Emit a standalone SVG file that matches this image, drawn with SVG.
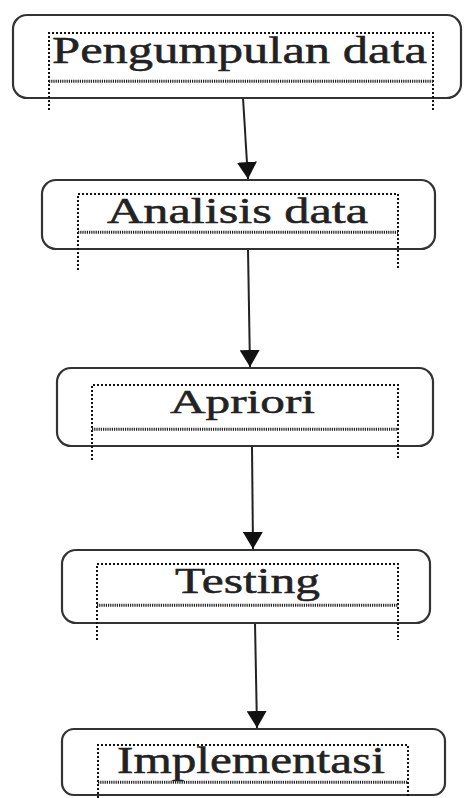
<svg xmlns="http://www.w3.org/2000/svg" width="464" height="798" viewBox="0 0 464 798">
<style>
.box{fill:#fff;stroke:#333;stroke-width:2.2}
.dot{fill:none;stroke:#111;stroke-width:2;stroke-dasharray:2 2}
.wave{fill:none;stroke:#222;stroke-width:1.5;stroke-dasharray:1.2 1}
.lbl{font-family:"Liberation Serif","DejaVu Serif",serif;fill:#222;stroke:#222;stroke-width:0.5}
.conn{stroke:#222;stroke-width:2;fill:none}
</style>
<defs>
<marker id="ah" viewBox="0 0 17 20" refX="17" refY="10" markerUnits="userSpaceOnUse" markerWidth="17" markerHeight="20" orient="auto">
<path d="M0,0 L17,10 L0,20 z" fill="#111"/>
</marker>
</defs>
<rect width="464" height="798" fill="#fff"/>
<g id="connectors">
<line class="conn" x1="243" y1="98" x2="248" y2="179" marker-end="url(#ah)"/>
<line class="conn" x1="248" y1="249" x2="250" y2="367" marker-end="url(#ah)"/>
<line class="conn" x1="252" y1="446" x2="253" y2="549" marker-end="url(#ah)"/>
<line class="conn" x1="255" y1="623" x2="257" y2="728" marker-end="url(#ah)"/>
</g>
<g id="n1">
<rect class="box" x="13" y="15" width="448" height="83" rx="14"/>
<path class="dot" d="M49,110 V33 H433 V110"/>
<path class="wave" d="M49,80.5 H433 M49,82 H433"/>
<text class="lbl" x="52" y="63" font-size="38" textLength="375" lengthAdjust="spacingAndGlyphs">Pengumpulan data</text>
</g>
<g id="n2">
<rect class="box" x="42" y="180" width="393" height="69" rx="14"/>
<path class="dot" d="M78,270 V194 H398 V270"/>
<path class="wave" d="M78,231.5 H398 M78,233 H398"/>
<text class="lbl" x="107" y="223" font-size="35" textLength="261" lengthAdjust="spacingAndGlyphs">Analisis data</text>
</g>
<g id="n3">
<rect class="box" x="57" y="368" width="376" height="78" rx="14"/>
<path class="dot" d="M92,460 V385 H398 V460"/>
<path class="wave" d="M92,428.5 H398 M92,430 H398"/>
<text class="lbl" x="170" y="413" font-size="34" textLength="145" lengthAdjust="spacingAndGlyphs">Apriori</text>
</g>
<g id="n4">
<rect class="box" x="62" y="550" width="368" height="73" rx="14"/>
<path class="dot" d="M97,640 V564 H398 V640"/>
<path class="wave" d="M97,604.5 H398 M97,606 H398"/>
<text class="lbl" x="175" y="593" font-size="36" textLength="145" lengthAdjust="spacingAndGlyphs">Testing</text>
</g>
<g id="n5">
<rect class="box" x="62" y="729" width="383" height="66" rx="12"/>
<path class="dot" d="M98,798 V745 H408 V798"/>
<path class="wave" d="M98,781.5 H408 M98,783 H408"/>
<text class="lbl" x="117" y="773" font-size="37" textLength="268" lengthAdjust="spacingAndGlyphs">Implementasi</text>
</g>
</svg>
